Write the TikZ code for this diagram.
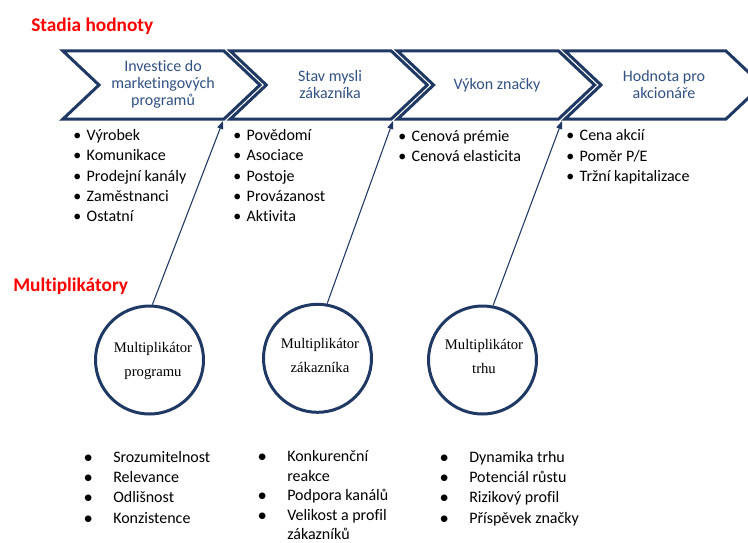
\documentclass[tikz,border=0pt]{standalone}
\usepackage{fontspec}
\setmainfont{Carlito}[Ligatures=CommonOff]
\newfontfamily\serifcirc{Liberation Serif}
\usetikzlibrary{arrows.meta}

\definecolor{navy}{RGB}{31,56,100}
\definecolor{stagetext}{RGB}{50,82,132}
\definecolor{titlered}{RGB}{255,0,0}

% bullet items: short gap under the stages, wide gap and rounder dot under the multipliers
\newcommand\topitem[1]{\makebox[6pt][c]{\textbullet}\hspace{4.1pt}#1}
\newcommand\lowitem[1]{\makebox[6pt][c]{\raisebox{-0.8pt}{\fontsize{14}{0}\selectfont\textbullet}}\hspace{15.75pt}#1}
\newcommand\lowcont[1]{\makebox[21.75pt]{}#1}

\begin{document}
\begin{tikzpicture}[x=0.75pt,y=-0.75pt,
  chevron/.style={draw=navy,line width=2.25pt,line join=miter,fill=white},
  stagelabel/.style={text=stagetext,font=\fontsize{12}{12.5}\selectfont,align=center,inner sep=0pt,anchor=base},
  itemlist/.style={font=\fontsize{12}{15.2}\selectfont,align=left,inner sep=0pt,anchor=base west},
  sectiontitle/.style={text=titlered,font=\bfseries\fontsize{14.5}{17}\selectfont,inner sep=0pt,anchor=base west},
  multiplier/.style={circle,draw=navy,line width=2.25pt,minimum size=81pt,inner sep=0pt},
  multlabel/.style={font=\serifcirc\fontsize{11}{18}\selectfont,align=center,inner sep=0pt,anchor=base},
  link/.style={draw=navy,line width=0.8pt,-{Triangle[length=6pt,width=4.5pt]}}
]
\useasboundingbox (0,0) rectangle (748,542);
\clip (0,0) rectangle (748,542);

% section headings
\node[sectiontitle] (valueTitle) at (31,31.7) {Stadia hodnoty};
\node[sectiontitle] (multTitle) at (13,291) {Multiplikátory};

% value chain stages (multi-line nodes are placed by their last baseline)
\foreach \x in {63,230.3,397.6,565}{
  \draw[chevron] (\x,51) -- ++(161,0) -- ++(36,34) -- ++(-36,34) -- ++(-161,0) -- ++(36,-34) -- cycle;
}
\node[stagelabel] (stage1) at (163,105) {Investice do\\marketingových\\programů};
\node[stagelabel] (stage2) at (330,98.3) {Stav mysli\\zákazníka};
\node[stagelabel] (stage3) at (497,89.3) {Výkon značky};
\node[stagelabel] (stage4) at (664,98.3) {Hodnota pro\\akcionáře};

% measures of each stage
\node[itemlist] (list1) at (73,221.7) {\topitem{Výrobek}\\\topitem{Komunikace}\\\topitem{Prodejní kanály}\\\topitem{Zaměstnanci}\\\topitem{Ostatní}};
\node[itemlist] (list2) at (233,221.7) {\topitem{Povědomí}\\\topitem{Asociace}\\\topitem{Postoje}\\\topitem{Provázanost}\\\topitem{Aktivita}};
\node[itemlist] (list3) at (398,161.3) {\topitem{Cenová prémie}\\\topitem{Cenová elasticita}};
\node[itemlist] (list4) at (566,181.5) {\topitem{Cena akcií}\\\topitem{Poměr P/E}\\\topitem{Tržní kapitalizace}};

% multipliers
\node[multiplier] (mult1) at (149.5,360) {};
\node[multiplier] (mult2) at (317.5,358.3) {};
\node[multiplier] (mult3) at (482.5,360) {};
\node[multlabel] (mlab1) at (153,376.7) {Multiplikátor\\programu};
\node[multlabel] (mlab2) at (320,372.7) {Multiplikátor\\zákazníka};
\node[multlabel] (mlab3) at (484,373.3) {Multiplikátor\\trhu};

% multiplier arrows into the stage boundaries
\coordinate (tip1) at (223,121);
\coordinate (tip2) at (393,121);
\coordinate (tip3) at (562,121);
\draw[link] (mult1.87) -- (tip1);
\draw[link] (mult2.80) -- (tip2);
\draw[link] (mult3.79) -- (tip3);

% multiplier factors
\node[itemlist] (low1) at (84,523) {\lowitem{Srozumitelnost}\\\lowitem{Relevance}\\\lowitem{Odlišnost}\\\lowitem{Konzistence}};
\node[itemlist,font=\fontsize{12}{14.6}\selectfont] (low2) at (258,539.7) {\lowitem{Konkurenční}\\\lowcont{reakce}\\\lowitem{Podpora kanálů}\\\lowitem{Velikost a profil}\\\lowcont{zákazníků}};
\node[itemlist] (low3) at (440,523) {\lowitem{Dynamika trhu}\\\lowitem{Potenciál růstu}\\\lowitem{Rizikový profil}\\\lowitem{Příspěvek značky}};
\end{tikzpicture}
\end{document}
